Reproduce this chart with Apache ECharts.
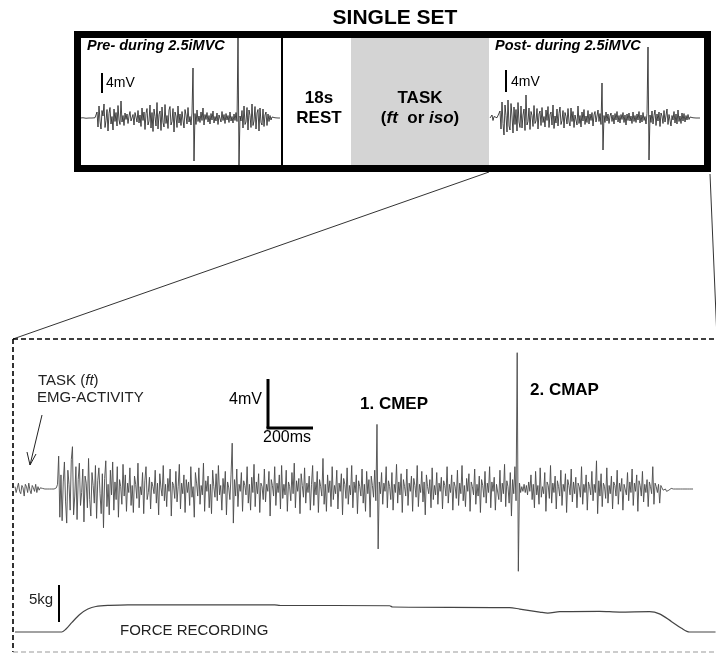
<!DOCTYPE html>
<html>
<head>
<meta charset="utf-8">
<title>Single set</title>
<script src="https://cdn.jsdelivr.net/npm/echarts/dist/echarts.min.js"></script>
<style>
  html, body { margin: 0; padding: 0; background: #fff; }
  #chart { width: 716px; height: 657px; }
</style>
</head>
<body>
<div id="chart"></div>
<script>
// EMG of the task (mV), one value every 5 ms
var EMG_STEP = 5
var taskEmg = [
  0.2, -0.3, 0.1, 0.5, -0.2, -0.4, 0.3, 0.1, -0.6, 0.4, 0.2, -0.3, 0.5, -0.1, -0.4, 0.3, 0.1, -0.2, 0.4, -0.3,
  0.2, -0.1, 0.1, 0, 0.05, 0, 0, -0.05, 0, 0.05, 0, 0, 0, 0.05, 0, 0, 0.1, 0.4, 2.8, -2.4,
  1.2, -2.7, 0.6, 2.3, -1.1, -2.9, 1.6, 0.4, -1.8, 2.5, 3.6, -2.2, -0.6, 1.9, -2.6, 0.8, 2.2, -1.4, -0.3, 1.7,
  -2.8, 1.1, 0.5, -1.6, 2.6, -0.9, -2.3, 1.4, 0.3, -1.2, 2.0, -2.5, 0.7, 1.8, -0.4, -2.1, 1.3, -3.3, 0.9, 2.4,
  -1.5, 0.4, -2.2, 1.6, -0.5, 2.3, -1.8, 0.6, -0.9, 1.9, -2.4, 0.8, 0.2, -1.3, 2.1, -0.6, 1.2, -1.9, 0.5, -0.3,
  1.8, -1.4, 0.3, -2.0, 1.1, 0.4, -0.8, 2.2, -1.6, 0.2, -0.5, 1.4, -2.1, 0.7, 1.9, -0.9, -0.3, 1.0, -1.7, 0.6,
  0.2, -0.4, 1.6, -1.2, 0.5, -2.2, 1.3, 0.1, -0.6, 2.0, -1.0, 0.4, -1.5, 0.9, -0.2, 1.7, -2.3, 0.6, 0.3, -0.8,
  1.5, -1.1, 0.2, 2.1, -1.7, 0.5, -0.4, 1.2, -2.0, 0.8, -0.3, 0.6, -1.4, 1.9, -0.7, 0.2, -2.4, 1.4, 0.5, -0.6,
  1.8, -1.3, 0.3, -0.5, 2.2, -1.9, 0.7, -0.2, 1.1, -1.6, 0.4, -2.1, 1.6, 0.2, -0.7, 1.3, -1.0, 2.0, -0.5, 0.3,
  -1.8, 0.9, -0.4, 1.5, -2.2, 0.6, 0.1, -0.9, 1.2, 3.9, -2.9, 0.8, -0.6, 1.7, -1.5, 0.4, -0.2, 1.4, -1.9, 0.7,
  0.3, -0.5, 1.9, -1.2, 0.4, -1.8, 1.0, -0.3, 2.1, -1.5, 0.6, -0.4, 1.3, -2.0, 0.5, 0.2, -0.9, 1.7, -1.1, 0.4,
  -0.2, 1.5, -2.3, 0.8, 0.3, -0.6, 1.9, -1.4, 0.5, -0.3, 1.2, -1.7, 2.0, -0.8, 0.4, -0.5, 1.6, -1.9, 0.6, 0.2,
  -1.0, 1.4, -0.4, 2.2, -1.6, 0.7, -0.2, 0.9, -2.1, 1.3, 0.3, -0.7, 1.8, -1.2, 0.5, -0.3, 1.1, -1.8, 0.4, 2.0,
  -1.4, 0.6, -0.5, 1.5, -2.0, 0.8, 0.2, -0.6, 2.6, -1.3, 0.4, -1.9, 1.2, -0.3, 0.7, -1.5, 1.9, -0.9, 0.3, -0.4,
  1.6, -1.7, 0.5, -0.2, 1.3, -2.2, 0.9, 0.4, -0.8, 1.8, -1.3, 0.3, -0.5, 2.0, -1.6, 0.6, -0.3, 1.2, -2.1, 0.7,
  0.2, -0.6, 1.7, -1.2, 0.4, -1.9, 1.5, -0.4, 0.8, -2.4, 1.1, 0.3, -0.7, 1.6, -1.0, 5.5, -5.1, 0.6, -0.4, 1.4,
  -1.3, 0.5, -0.2, 1.9, -1.6, 0.7, 0.2, -0.9, 1.4, -1.8, 0.4, -0.3, 2.1, -1.2, 0.6, -0.5, 1.3, -2.0, 0.8, 0.2,
  -0.6, 1.7, -1.4, 0.5, -0.2, 1.1, -1.9, 0.9, 0.3, -0.7, 2.0, -1.5, 0.4, -0.3, 1.5, -1.1, 0.6, -2.2, 1.2, 0.2,
  -0.4, 0.8, -1.6, 1.8, -0.9, 0.3, -0.5, 1.4, -1.3, 0.5, -0.2, 1.0, -1.7, 0.7, 0.3, -0.6, 1.9, -1.2, 0.4, -0.3,
  1.2, -1.8, 0.6, 0.2, -0.8, 1.6, -1.4, 0.5, -0.4, 2.0, -1.0, 0.3, -1.5, 0.9, -0.2, 1.3, -1.9, 0.6, 0.2, -0.5,
  1.7, -1.3, 0.4, -0.6, 1.1, -2.0, 0.8, 0.3, -0.7, 1.5, -1.2, 0.5, -0.3, 1.9, -1.6, 0.6, -0.2, 1.0, -1.8, 0.4,
  0.3, -0.9, 1.6, -1.1, 0.5, -0.4, 2.1, -1.5, 0.7, 0.2, -1.2, 1.4, -2.3, 0.8, -0.4, 1.9, -1.0, 11.6, -7.0, 0.5,
  -0.3, 0.2, -0.2, 0.4, -0.3, 0.3, -0.5, 0.6, -0.2, 1.2, -0.9, 0.4, -1.6, 1.5, -0.5, 0.3, -1.3, 1.8, -0.7, 0.2,
  -0.4, 1.4, -1.9, 0.6, 0.3, -0.8, 2.0, -1.2, 0.5, -0.3, 1.1, -1.7, 0.7, 0.2, -0.6, 1.6, -1.4, 0.4, -0.2, 1.3,
  -2.0, 0.8, 0.3, -0.5, 1.7, -1.1, 0.6, -0.4, 1.0, -1.6, 0.5, 0.2, -0.7, 1.9, -1.3, 0.4, -0.3, 1.2, -1.8, 0.6,
  0.2, -0.5, 1.5, -1.0, 0.4, -0.3, 2.4, -2.1, 0.7, -0.6, 1.3, -1.5, 0.5, 0.2, -0.8, 1.8, -1.2, 0.3, -0.4, 1.1,
  -1.7, 0.6, 0.3, -0.6, 1.6, -1.3, 0.5, -0.2, 0.9, -1.8, 0.4, 0.3, -0.5, 1.4, -1.0, 0.6, -0.3, 1.7, -1.4, 0.5,
  -0.2, 1.2, -1.9, 0.7, 0.3, -0.6, 1.5, -1.1, 0.4, -0.3, 0.8, -1.5, 0.6, 0.2, -0.4, 1.9, -1.3, 0.5, 0.2, -0.3,
  0.4, -1.2, 0.3, 0.1, -0.1, 0.05, 0, -0.2, -0.3, -0.1, 0, 0.05, 0, 0, 0.05, 0, 0, 0, 0.05, 0,
  0, 0, 0.05, 0, 0, 0, 0, 0, 0, 0, 0
]

// force recording (ms, kg)
var forceTime = [0, 204, 222, 248, 283, 317, 352, 413, 491, 1130, 1152, 1630, 1643, 2152, 2196, 2283, 2318, 2370, 2543, 2630, 2761, 2804, 2857, 2900, 2935, 3048]
var forceKg = [0, 0, 0.4, 1.3, 2.4, 3.1, 3.45, 3.6, 3.68, 3.68, 3.6, 3.55, 3.38, 3.3, 3.1, 2.7, 2.55, 2.75, 2.8, 2.7, 2.75, 2.45, 1.4, 0.5, 0, 0]

// pre / post traces in the top box (mV, one value per sample)
var preEmg = [
  0, 0, 0, 0.05, 0, 0, -0.05, 0, 0, 0, 0.05, 0, 0, 0, 0, 0.05, 0, 1.2, -1.8, 2.4,
  -0.6, -2.2, 1.5, 0.4, 2.8, -1.9, -0.5, 1.7, -2.6, 0.9, 2.1, -1.2, 0.3, -2.4, 1.8, -0.7, 1.1, -1.6, 2.5, -0.4,
  -1.3, 3.4, -0.8, 0.5, -1.5, 1.0, -0.3, 0.8, -1.1, 0.4, 1.3, -0.6, -0.9, 0.7, -1.4, 1.1, 0.2, -0.8, 1.5, -1.0,
  0.6, -1.7, 2.0, -0.5, 1.2, -2.3, 0.9, 1.9, -1.4, -0.6, 2.6, -2.0, 1.1, -2.7, 1.8, 0.3, -1.6, 3.1, -2.2, 0.7,
  1.4, -2.5, 2.2, -0.9, -1.8, 2.7, -1.1, 0.5, -2.1, 1.6, 2.3, -1.4, -0.7, 1.9, -2.8, 1.2, 0.4, -1.9, 2.4, -1.0,
  0.8, -1.5, 1.3, -0.4, -2.0, 1.7, 0.6, -1.2, 2.1, -0.8, 0.3, -1.4, 1.0, 10.0, -8.6, 0.9, -1.3, 1.6, -0.7, 0.4,
  -0.9, 1.2, -0.5, 2.0, -1.4, 0.7, -0.3, 1.1, -0.8, 0.5, -1.2, 0.9, -0.4, 1.4, -1.0, 0.3, -0.6, 1.0, -1.3, 0.6,
  0.2, -0.8, 1.3, -0.5, 0.7, -1.1, 0.9, -0.4, 0.5, -0.9, 1.2, -0.6, 0.3, -1.0, 0.8, -0.5, 1.1, -0.7, 16, -9.4,
  0.4, -0.6, 1.5, -2.0, 2.4, -1.3, -0.8, 2.1, -2.4, 1.6, 0.5, -1.9, 2.8, -1.5, -0.6, 2.3, -2.2, 1.0, 1.7, -2.6,
  2.0, -0.9, -1.4, 1.8, -1.7, 0.6, 1.2, -1.5, 0.8, -0.7, 0.5, -0.4, 0.2, -0.1, 0, 0.05, 0, 0, 0, 0,
  0
]
var postEmg = [
  0, 0, 0.6, -0.5, 0.3, 0, 0, 0.05, 0, 0, 1.4, -2.2, 3.2, -1.1, -3.4, 2.6, 0.5, -2.8, 3.6, -1.6,
  -2.4, 2.9, 0.4, -3.0, 2.2, -1.3, 1.7, -2.6, 3.1, -0.8, -1.9, 2.4, -2.0, 0.6, 1.8, -2.5, 4.6, -1.4, -0.7, 2.0,
  -2.3, 1.3, 0.5, -1.7, 2.5, -1.1, -0.6, 1.9, -2.2, 0.8, 1.4, -1.5, 2.1, -0.9, 0.3, -1.8, 1.6, -0.5, 2.3, -1.9,
  0.7, 1.2, -1.4, 2.6, -2.1, 0.4, -1.0, 1.8, -1.6, 0.9, 2.2, -1.3, -0.5, 1.5, -2.0, 1.1, 0.3, -1.2, 1.9, -0.8,
  -1.6, 2.0, -0.7, 1.3, -1.9, 0.6, 1.0, -1.4, 2.4, -1.1, 0.5, -1.8, 1.2, -0.6, 1.7, -1.3, 0.4, -0.9, 1.5, -1.2,
  0.8, -0.5, 1.1, -1.6, 0.6, 1.3, -0.8, -1.1, 1.6, -0.7, 0.9, -1.3, 7.0, -6.4, 0.5, -0.9, 1.2, -0.6, 0.8, -1.1,
  0.4, 1.0, -0.7, 0.6, -1.2, 0.9, -0.4, 1.3, -0.8, 0.5, -1.0, 0.7, -0.3, 1.1, -0.9, 0.6, -1.4, 0.8, -0.5, 1.0,
  -0.6, 0.4, -1.1, 1.2, -0.7, 0.5, -0.9, 0.8, -0.4, 1.3, -1.0, 0.6, -0.8, 1.1, -0.5, 0.3, -1.2, 0.9, 14.2, -8.4,
  0.6, -0.9, 1.4, -1.2, 0.5, 1.6, -1.5, 0.8, -0.6, 1.2, -1.7, 1.0, 0.4, -1.1, 1.5, -0.8, -0.5, 1.8, -1.3, 0.7,
  1.1, -1.6, 0.5, -0.4, 1.3, -1.0, 0.8, -1.2, 1.6, -0.7, 0.4, -1.1, 1.0, -0.6, 0.9, -0.8, 0.5, -0.4, 0.7, -0.3,
  0.2, -0.1, 0, 0.05, 0, 0, 0, 0, 0, 0, 0
]

var FONT = '"Liberation Sans", Arial, sans-serif'

function indexed (arr, step) {
  return arr.map(function (v, i) { return [i * step, v] })
}

var chart = echarts.init(document.getElementById('chart'))

function xAx (idx, max) {
  return { type: 'value', gridIndex: idx, min: 0, max: max, show: false }
}
function yAx (idx, min, max) {
  return { type: 'value', gridIndex: idx, min: min, max: max, show: false }
}

function txt (x, y, text, font, opt) {
  opt = opt || {}
  return {
    type: 'text', x: x, y: y, z: 20,
    style: {
      text: text, font: font, fill: opt.fill || '#000',
      textAlign: opt.align || 'left', verticalAlign: 'middle',
      rich: opt.rich
    }
  }
}
function line (x1, y1, x2, y2, w, color, dash) {
  return {
    type: 'line', z: 15,
    shape: { x1: x1, y1: y1, x2: x2, y2: y2 },
    style: { stroke: color || '#000', lineWidth: w, lineDash: dash }
  }
}

chart.setOption({
  animation: false,
  backgroundColor: '#fff',
  grid: [
    { left: 80, top: 38, width: 200, height: 130 },
    { left: 490, top: 38, width: 210, height: 130 },
    { left: 15, top: 340, width: 701, height: 312 },
    { left: 15, top: 560, width: 701, height: 92 }
  ],
  xAxis: [xAx(0, 200), xAx(1, 210), xAx(2, 3050), xAx(3, 3050)],
  yAxis: [yAx(0, -10, 16), yAx(1, -10, 16), yAx(2, -13.87, 12.68), yAx(3, -2.7, 9.73)],
  series: [
    { type: 'line', xAxisIndex: 0, yAxisIndex: 0, data: indexed(preEmg, 1), showSymbol: false, lineStyle: { color: '#1a1a1a', width: 0.8 } },
    { type: 'line', xAxisIndex: 1, yAxisIndex: 1, data: indexed(postEmg, 1), showSymbol: false, lineStyle: { color: '#1a1a1a', width: 0.8 } },
    { type: 'line', xAxisIndex: 2, yAxisIndex: 2, data: indexed(taskEmg, EMG_STEP), showSymbol: false, lineStyle: { color: '#4a4a4a', width: 0.9 } },
    {
      type: 'line', xAxisIndex: 3, yAxisIndex: 3, showSymbol: false, smooth: 0.3,
      data: forceTime.map(function (t, i) { return [t, forceKg[i]] }),
      lineStyle: { color: '#444', width: 1.2 }
    }
  ],
  graphic: [
    txt(395, 18, 'SINGLE SET', 'bold 21px ' + FONT, { align: 'center' }),
    // task block
    { type: 'rect', z: 1, shape: { x: 351, y: 38, width: 138, height: 127 }, style: { fill: '#d4d4d4' } },
    { type: 'rect', z: 16, shape: { x: 77.5, y: 34.5, width: 630, height: 134 }, style: { fill: 'none', stroke: '#000', lineWidth: 7 } },
    line(282, 38, 282, 165, 2),
    txt(87, 46, 'Pre- during 2.5iMVC', 'italic bold 14.5px ' + FONT),
    txt(495, 46, 'Post- during 2.5iMVC', 'italic bold 14.5px ' + FONT),
    line(102, 73, 102, 93, 2),
    txt(106, 83, '4mV', '14px ' + FONT),
    line(506, 70, 506, 92, 2),
    txt(511, 82, '4mV', '14px ' + FONT),
    txt(319, 98, '18s', 'bold 17px ' + FONT, { align: 'center' }),
    txt(319, 118, 'REST', 'bold 17px ' + FONT, { align: 'center' }),
    txt(420, 98, 'TASK', 'bold 17px ' + FONT, { align: 'center' }),
    txt(420, 118, '({i|ft}  or {i|iso})', 'bold 17px ' + FONT, {
      align: 'center', rich: { i: { font: 'italic bold 17px ' + FONT } }
    }),
    // zoom lines
    line(489, 172, 13, 339, 1, '#333'),
    line(710, 174, 717, 339, 1, '#333'),
    // dashed frame
    line(13, 339, 716, 339, 1.6, '#000', [5, 3]),
    line(13, 339, 13, 652, 1.6, '#000', [5, 3]),
    line(13, 652, 716, 652, 1.2, '#999', [5, 3]),
    // annotations
    txt(38, 381, 'TASK ({i|ft})', '15px ' + FONT, { fill: '#222', rich: { i: { font: 'italic 15px ' + FONT, fill: '#222' } } }),
    txt(37, 398, 'EMG-ACTIVITY', '15px ' + FONT, { fill: '#222' }),
    line(42, 415, 30, 465, 1, '#222'),
    line(30, 465, 27, 452, 1, '#222'),
    line(30, 465, 36, 454, 1, '#222'),
    line(268, 379, 268, 428, 3),
    line(266.5, 428, 313, 428, 3),
    txt(262, 400, '4mV', '16px ' + FONT, { align: 'right' }),
    txt(287, 438, '200ms', '16px ' + FONT, { align: 'center' }),
    txt(360, 404, '1. CMEP', 'bold 17px ' + FONT),
    txt(530, 390, '2. CMAP', 'bold 17px ' + FONT),
    txt(29, 600, '5kg', '15px ' + FONT, { fill: '#222' }),
    line(59, 585, 59, 622, 2),
    txt(120, 631, 'FORCE RECORDING', '15px ' + FONT, { fill: '#222' })
  ]
})
</script>
</body>
</html>
